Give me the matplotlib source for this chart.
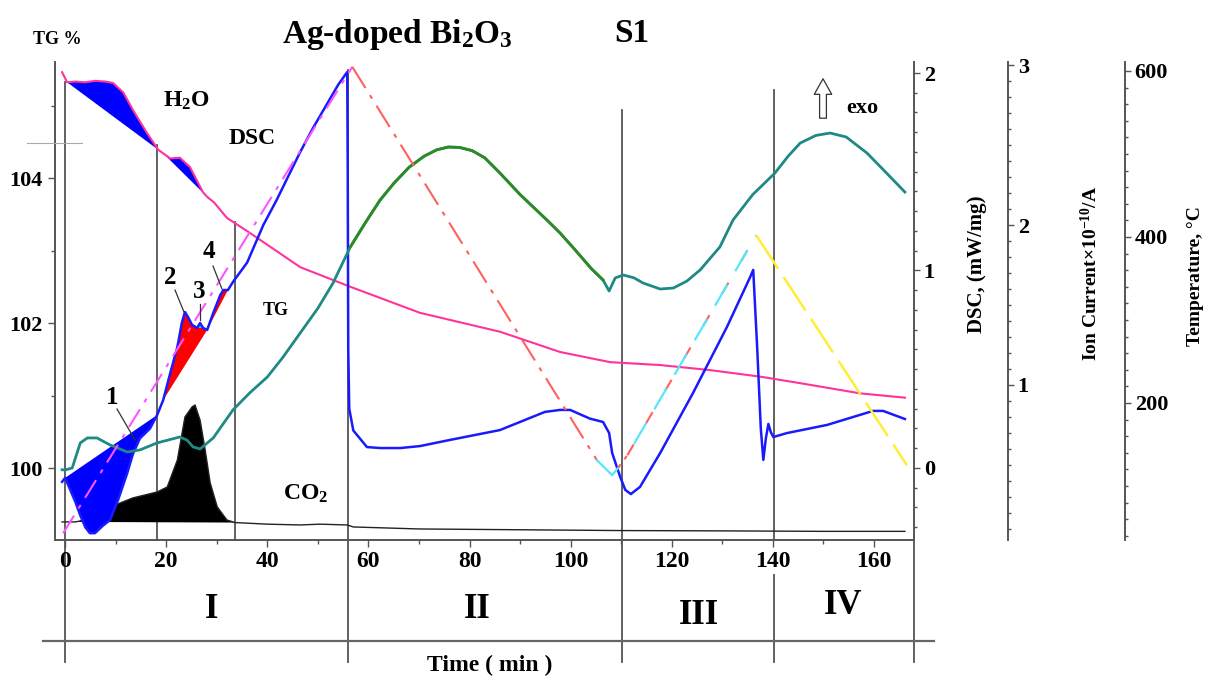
import numpy as np
import matplotlib
matplotlib.use("Agg")
import matplotlib.pyplot as plt
from matplotlib.lines import Line2D
from matplotlib.ticker import MultipleLocator
import matplotlib.transforms as mtransforms

plt.rcParams['font.family'] = ['Liberation Serif', 'DejaVu Serif']
plt.rcParams['font.weight'] = 'bold'
plt.rcParams['mathtext.fontset'] = 'custom'
plt.rcParams['mathtext.rm'] = 'Liberation Serif:bold'
plt.rcParams['mathtext.it'] = 'Liberation Serif:bold'
plt.rcParams['mathtext.bf'] = 'Liberation Serif:bold'
plt.rcParams['mathtext.default'] = 'rm'

W, H = 1207, 679
def fx(p): return p / W
def fy(p): return 1 - p / H

# ---------------- data (time in min) ----------------
dsc_t = [-0.6, 0.0, 1.0, 2.0, 3.0, 4.0, 4.9, 5.9, 7.4, 8.9, 10.5, 12.3, 13.4, 14.8, 16.8, 18.2,
         19.4, 20.8, 22.2, 23.1, 23.7, 24.3, 25.1, 26.1, 26.7, 27.3, 28.1, 29.3, 30.7, 31.3, 32.2,
         33.2, 36.0, 39.2, 41.9, 44.0, 46.5, 49.0, 51.5, 54.0, 55.8, 55.9, 56.0, 56.2, 57.0, 59.7,
         62.3, 66.3, 70.2, 76.1, 86.0, 94.9, 97.9, 99.9, 103.8, 106.4, 107.6, 108.2, 109.8, 110.8,
         111.9, 113.7, 117.7, 124.2, 130.9, 135.5, 136.1, 136.9, 137.6, 138.1, 138.6, 139.1, 139.6,
         140.1, 142.8, 150.7, 159.8, 161.8, 166.1]
dsc_v = [-0.07, -0.05, -0.11, -0.17, -0.24, -0.30, -0.33, -0.33, -0.294, -0.263, -0.16, -0.025,
         0.07, 0.15, 0.20, 0.268,
         0.344, 0.481, 0.613, 0.736, 0.79, 0.765, 0.725, 0.709, 0.734, 0.709, 0.699, 0.785, 0.876,
         0.901, 0.901, 0.942, 1.04, 1.23, 1.36, 1.47, 1.60, 1.72, 1.83, 1.94, 2.005, 1.5, 0.6, 0.30,
         0.19, 0.106, 0.101, 0.101, 0.111, 0.142, 0.192, 0.284, 0.294, 0.294, 0.25, 0.233, 0.177,
         0.076, -0.046, -0.111, -0.132, -0.096, 0.076, 0.38, 0.714, 0.967, 1.003, 0.6, 0.2, 0.041,
         0.15, 0.223, 0.18, 0.157, 0.177, 0.218, 0.289, 0.289, 0.248]

tg_t = [-0.6, 0.4, 2.0, 4.0, 6.0, 8.0, 9.5, 11.5, 13.4, 16.2, 18.4, 19.4, 20.8, 22.7, 24.7, 27.3,
        28.1, 29.5, 32.0, 36.6, 46.5, 56.4, 70.2, 86.0, 97.9, 107.8, 117.7, 127.6, 137.5, 145.4,
        157.2, 166.1]
tg_v = [105.46, 105.32, 105.33, 105.32, 105.34, 105.33, 105.31, 105.18, 104.94, 104.62, 104.39,
        104.34, 104.27, 104.28, 104.15, 103.80, 103.74, 103.66, 103.45, 103.24, 102.77, 102.50,
        102.14, 101.88, 101.60, 101.46, 101.42, 101.35, 101.26, 101.17, 101.03, 100.97]

co2_t = [-0.6, 2.0, 3.0, 5.9, 8.9, 13.4, 18.2, 20.2, 22.2, 23.7, 25.1, 25.7, 26.7, 27.7, 28.7,
         30.1, 32.0, 33.6, 40.0, 46.5, 50.4, 55.8, 57.0, 70.0, 90.0, 110.0, 130.0, 150.0, 166.1]
co2_v = [0.144, 0.144, 0.15, 0.20, 0.2375, 0.294, 0.331, 0.3625, 0.531, 0.80, 0.8625, 0.875,
         0.78, 0.594, 0.387, 0.2375, 0.156, 0.14, 0.13, 0.125, 0.13, 0.125, 0.1125, 0.10, 0.095,
         0.09, 0.088, 0.085, 0.085]

ion2_t = [-0.6, 0.0, 1.4, 3.0, 4.4, 6.3, 8.9, 12.3, 14.8, 18.2, 22.7, 24.1, 25.3, 26.7, 29.3,
          33.2, 36.5, 40.0, 43.0, 46.5, 50.0, 53.0, 56.4, 59.5, 62.3, 65.0, 68.0, 71.0, 73.5, 75.8,
          78.0, 80.5, 83.0, 86.0, 90.0, 95.3, 97.9, 101.0, 104.0, 106.4,
          107.6, 108.8, 110.4, 112.5, 114.3, 117.7, 120.3, 123.0, 125.6, 129.5, 132.1, 136.0,
          140.4, 143.0, 145.4, 148.5, 151.3, 154.5, 158.6, 162.0, 166.1]
ion2_v = [0.47, 0.469, 0.481, 0.638, 0.669, 0.669, 0.625, 0.581, 0.594, 0.638, 0.675, 0.656,
          0.613, 0.60, 0.669, 0.844, 0.95, 1.05, 1.17, 1.325, 1.48, 1.6375, 1.8625, 2.02, 2.156,
          2.26, 2.36, 2.43, 2.47, 2.4875, 2.485, 2.465, 2.42, 2.325, 2.19, 2.031, 1.95, 1.84,
          1.73, 1.656, 1.5875, 1.669, 1.6875, 1.67, 1.6375, 1.60, 1.606, 1.65, 1.719, 1.8625,
          2.031, 2.19, 2.325, 2.43, 2.5125, 2.56, 2.575, 2.55, 2.45, 2.34, 2.206]

temp_t = [-0.4, 56.8, 105.2, 108.2, 109.4, 111.2, 136.7, 166.5]
temp_v = [43, 605, 131, 113, 122, 137, 402, 125]

phase_t = [0.0, 18.2, 33.6, 56.0, 110.2, 140.2]
stages = ["I", "II", "III", "IV"]

x_ticks = [0, 20, 40, 60, 80, 100, 120, 140, 160]
tg_ticks = [100, 102, 104]
dsc_ticks = [0, 1, 2]
ion_ticks = [1, 2, 3]
temp_ticks = [200, 400, 600]

dsc_t = np.array(dsc_t); dsc_v = np.array(dsc_v)
tg_t = np.array(tg_t); tg_v = np.array(tg_v)
co2_t = np.array(co2_t); co2_v = np.array(co2_v)
ion2_t = np.array(ion2_t); ion2_v = np.array(ion2_v)

# ---------------- figure ----------------
fig = plt.figure(figsize=(W / 100, H / 100), dpi=100)
ax = fig.add_axes([fx(55), fy(540), fx(914) - fx(55), fy(62) - fy(540)])
ax_co2 = ax.twinx()
ax_dsc = ax.twinx()
ax_ion = ax.twinx()
ax_temp = ax.twinx()

ax.set_xlim(-2.0, 167.9)
ax.set_ylim(99.007, 105.6)
ax_dsc.set_ylim(-0.3646, 2.0557)
ax_co2.set_ylim(0.031, 3.019)
ax_ion.set_ylim(0.031, 3.019)
ax_temp.set_ylim(34.9, 610.8)

spc = '#555555'
ax.spines['top'].set_visible(False)
ax.spines['right'].set_visible(False)
for s in ['left', 'bottom']:
    ax.spines[s].set_color(spc)
    ax.spines[s].set_linewidth(1.4)
for a in [ax_co2, ax_dsc, ax_ion, ax_temp]:
    for s in ['left', 'top', 'bottom']:
        a.spines[s].set_visible(False)
ax_co2.spines['right'].set_visible(False)
ax_co2.set_yticks([])
for a in [ax_dsc, ax_ion, ax_temp]:
    a.spines['right'].set_color(spc)
    a.spines['right'].set_linewidth(1.4)
ax_ion.spines['right'].set_position(('axes', 1.1094))
ax_temp.spines['right'].set_position(('axes', 1.2456))

# ticks
ax.set_xticks(x_ticks)
ax.xaxis.set_minor_locator(MultipleLocator(10))
ax.set_yticks(tg_ticks)
ax.yaxis.set_minor_locator(MultipleLocator(1))
ax.tick_params(axis='x', which='major', direction='out', length=5, width=1, color=spc,
               labelsize=17, pad=3)
ax.tick_params(axis='y', which='major', direction='out', length=5, width=1, color=spc,
               labelsize=16, pad=4)
ax.tick_params(axis='both', which='minor', direction='out', length=3, width=1, color=spc)
ax_dsc.set_yticks(dsc_ticks)
ax_dsc.yaxis.set_minor_locator(MultipleLocator(0.1))
ax_ion.set_yticks(ion_ticks)
ax_ion.yaxis.set_minor_locator(MultipleLocator(0.1))
ax_temp.set_yticks(temp_ticks)
ax_temp.yaxis.set_minor_locator(MultipleLocator(20))
for a in [ax_dsc, ax_ion, ax_temp]:
    a.tick_params(axis='y', which='major', direction='out', length=4, width=1, color=spc,
                  labelsize=16, pad=3)
    a.tick_params(axis='y', which='minor', direction='out', length=2.5, width=1, color=spc)

# ---------------- phase boundary lines ----------------
trans = mtransforms.blended_transform_factory(ax.transData, ax.transAxes)
vl_ext = [(-0.255, 0.958), (0.0, 0.826), (0.0, 0.665), (-0.255, 0.983), (-0.255, 0.90), (0.0, 0.941)]
for t, (y0, y1) in zip(phase_t, vl_ext):
    ax.plot([t, t], [y0, y1], transform=trans, color='#555555', lw=1.3, clip_on=False, zorder=1)
ax.plot([phase_t[5]] * 2, [-0.255, -0.073], transform=trans, color='#555555', lw=1.3, clip_on=False)
ax.plot([1, 1], [-0.255, 0], transform=ax.transAxes, color='#555555', lw=1.3, clip_on=False)

# ---------------- TG (with H2O fills) ----------------
m1 = (tg_t >= 0.4) & (tg_t <= 18.4)
m2 = (tg_t >= 19.4) & (tg_t <= 28.1)
ax.fill(tg_t[m1], tg_v[m1], color='#0000ff', lw=0, zorder=2)
ax.fill(tg_t[m2], tg_v[m2], color='#0000ff', lw=0, zorder=2)
ax.plot(tg_t, tg_v, color='#ff3399', lw=1.5, zorder=3)

# ---------------- CO2 ion current ----------------
mc = (co2_t >= 2.0) & (co2_t <= 33.6)
ax_co2.fill(co2_t[mc], co2_v[mc], color='black', lw=0)
ax_co2.plot(co2_t, co2_v, color='#222222', lw=1.0)

# ---------------- DSC ----------------
md1 = (dsc_t >= 0.0) & (dsc_t <= 18.2)
md2 = (dsc_t >= 19.4) & (dsc_t <= 28.1)
md3 = (dsc_t >= 26.1) & (dsc_t <= 27.3)
md4 = (dsc_t >= 28.1) & (dsc_t <= 32.2)
ax_dsc.fill(dsc_t[md1], dsc_v[md1], color='#0000ff', lw=0)
ax_dsc.fill(dsc_t[md2], dsc_v[md2], color='#ff0000', lw=0)
ax_dsc.fill(dsc_t[md3], dsc_v[md3], color='#22ccff', lw=0)
ax_dsc.fill(dsc_t[md4], dsc_v[md4], color='#ff0000', lw=0)
ax_dsc.plot(dsc_t, dsc_v, color='#1a1aff', lw=1.8)

# ---------------- second ion current (teal / green) ----------------
ax_ion.plot(ion2_t, ion2_v, color='#1f8a85', lw=2.0)
mg = (ion2_t >= 56.4) & (ion2_t <= 106.4)
ax_ion.plot(ion2_t[mg], ion2_v[mg], color='#2e8b22', lw=2.0)

# ---------------- temperature program ----------------
tt = np.array(temp_t); tv = np.array(temp_v)
ax_temp.plot(tt[0:2], tv[0:2], color='#ff55ff', lw=1.5, ls=(0, (10, 4, 2, 4)))
ax_temp.plot(tt[1:3], tv[1:3], color='#ff6060', lw=1.5, ls=(0, (12, 4, 2, 4)))
ax_temp.plot(tt[2:5], tv[2:5], color='#55e6ff', lw=1.6)
ax_temp.plot(tt[4:6], tv[4:6], color='#ff6060', lw=1.5, ls=(0, (2, 3)))
ax_temp.plot(tt[5:7], tv[5:7], color='#ff6060', lw=1.5, ls=(0, (6, 12)))
ax_temp.plot(tt[5:7], tv[5:7], color='#55e6ff', lw=1.6, ls=(12, (11, 7)))
ax_temp.plot(tt[6:8], tv[6:8], color='#ffee33', lw=1.8, ls=(0, (16, 4)))

# ---------------- texts ----------------
fig.text(fx(397), fy(35), r"Ag-doped Bi$_2$O$_3$", fontsize=24, ha='center', va='center')
fig.text(fx(632), fy(34), "S1", fontsize=24, ha='center', va='center')
fig.text(fx(57), fy(40), "TG %", fontsize=13, ha='center', va='center')
fig.text(fx(186), fy(101), r"H$_2$O", fontsize=17, ha='center', va='center')
fig.text(fx(252), fy(139), "DSC", fontsize=17, ha='center', va='center')
fig.text(fx(276), fy(311), "TG", fontsize=13, ha='center', va='center')
fig.text(fx(306), fy(494), r"CO$_2$", fontsize=17, ha='center', va='center')
fig.text(fx(862), fy(108), "exo", fontsize=16, ha='center', va='center')
ax.annotate('', xy=(fx(823), fy(76)), xycoords='figure fraction',
            xytext=(fx(823), fy(121)), textcoords='figure fraction',
            arrowprops=dict(arrowstyle='simple,head_length=0.8,head_width=0.9,tail_width=0.35',
                            fc='white', ec='#333333', lw=0.9, mutation_scale=14))

for lab, tpos, l0, l1 in [("1", (112, 397), (117, 409), (135, 440)),
                          ("2", (170, 277), (175, 290), (184, 312)),
                          ("3", (199, 292), (200, 304), (200, 320)),
                          ("4", (209, 252), (213, 266), (222, 289))]:
    fig.text(fx(tpos[0]), fy(tpos[1]), lab, fontsize=18, ha='center', va='center')
    fig.add_artist(Line2D([fx(l0[0]), fx(l1[0])], [fy(l0[1]), fy(l1[1])], color='#333333', lw=0.9))

fig.text(fx(977), fy(264), "DSC, (mW/mg)", fontsize=15, rotation=90, ha='center', va='center')
fig.text(fx(1090), fy(273), r"Ion Current$\times$10$^{-10}$/A", fontsize=14, rotation=90,
         ha='center', va='center')
fig.text(fx(1196), fy(276), "Temperature, \u00b0C", fontsize=14, rotation=90, ha='center', va='center')

for lab, (px, py) in zip(stages, [(212, 610), (477, 610), (699, 615), (843, 605)]):
    fig.text(fx(px), fy(py), lab, fontsize=25, ha='center', va='center')
fig.add_artist(Line2D([fx(43), fx(934)], [fy(641), fy(641)], color='#666666', lw=1.6))
fig.add_artist(Line2D([fx(27), fx(82)], [fy(143), fy(143)], color='#aaaaaa', lw=0.8))
fig.text(fx(490), fy(665), "Time ( min )", fontsize=17, ha='center', va='center')

fig.savefig("out.png", dpi=100)
